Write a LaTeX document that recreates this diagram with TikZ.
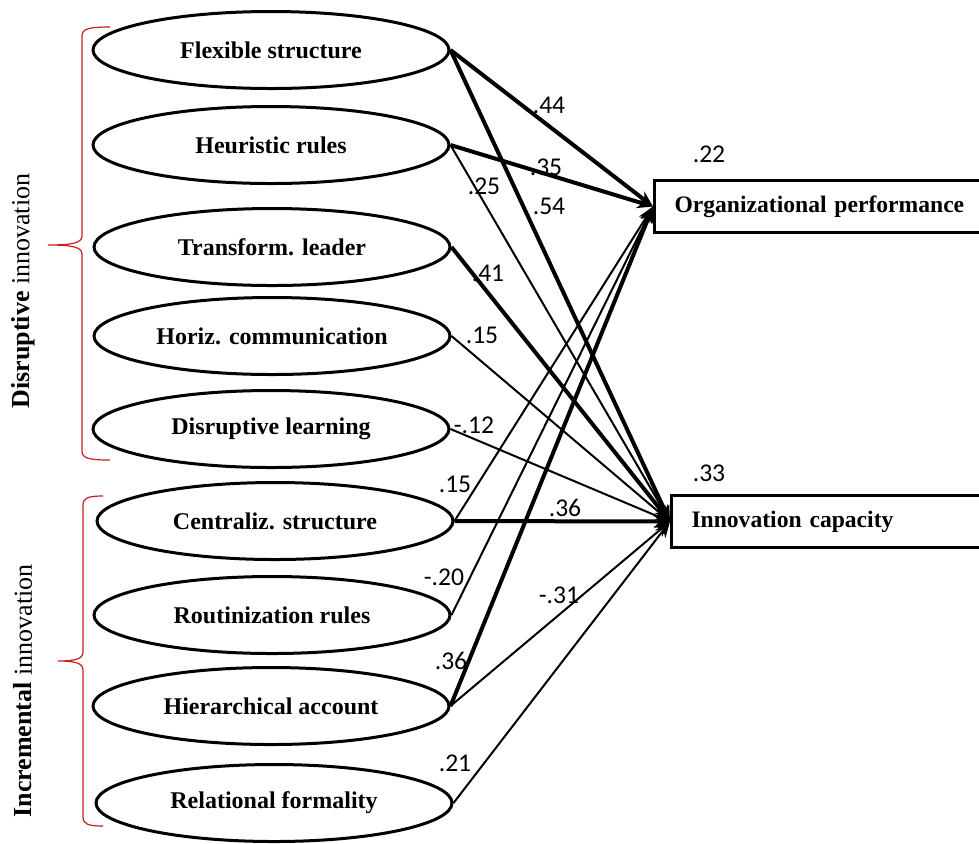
\documentclass[tikz,border=0pt]{standalone}
\usepackage{fontspec}
\setmainfont{Liberation Serif}
\newfontfamily\numfont{Carlito}
\usetikzlibrary{arrows.meta,shapes.geometric}
\definecolor{bracered}{RGB}{200,30,30}

\begin{document}
\begin{tikzpicture}[x=0.5pt, y=-0.5pt, line width=1.5pt,
    construct/.style={draw, ellipse, minimum width=178pt, minimum height=38.5pt, inner sep=0pt,
      font=\fontsize{12}{13}\selectfont\bfseries},
    outcome/.style={draw, rectangle, anchor=west, minimum height=26pt, inner xsep=10pt,
      text width=170pt, align=left, font=\fontsize{11.8}{13}\selectfont\bfseries},
    coef/.style={font=\numfont\fontsize{12.8}{14}\selectfont, inner sep=0pt},
    thickpath/.style={line width=2pt, -{Stealth[length=8pt,width=6.5pt]}},
    thinpath/.style={line width=1pt, -{Stealth[length=8pt,width=6.5pt]}},
    grp/.style={bracered, line width=0.6pt},
    grouplabel/.style={rotate=90, font=\fontsize{13}{15}\selectfont}]
  \useasboundingbox (0,0) rectangle (979,843);
  % antecedents, disruptive side
  \node[construct] (fs) at (271,50) {Flexible structure};
  \node[construct] (hr) at (271,145) {Heuristic rules};
  \node[construct] (tl) at (272,247) {Transform. leader};
  \node[construct] (hc) at (272,336) {Horiz. communication};
  \node[construct] (dl) at (271,429) {Disruptive learning};
  % antecedents, incremental side
  \node[construct] (cs) at (275,521) {Centraliz. structure};
  \node[construct] (rr) at (272,615) {Routinization rules};
  \node[construct] (ha) at (271,706) {Hierarchical account};
  \node[construct] (rf) at (274,803) {Relational formality};
  % outcomes
  \node[outcome] (op) at (653,206.5) {Organizational performance};
  \node[outcome] (ic) at (670,521.5) {Innovation capacity};
  \node[coef] (r2op) at (709,154) {.22};
  \node[coef] (r2ic) at (709,473) {.33};
  % group braces
  \draw[grp] (110,27) .. controls (88,27) and (82,29) .. (82,36) -- (82,236)
    .. controls (82,243) and (72,245) .. (48,245)
    .. controls (72,245) and (82,247) .. (82,254) -- (82,451)
    .. controls (82,458) and (88,460) .. (110,460);
  \draw[grp] (103,496) .. controls (88,496) and (83,498) .. (83,505) -- (83,652)
    .. controls (83,659) and (75,661) .. (58,661)
    .. controls (75,661) and (83,663) .. (83,670) -- (83,817)
    .. controls (83,824) and (88,826) .. (103,826);
  \node[grouplabel] (dis) at (23,291) {\textbf{Disruptive} innovation};
  \node[grouplabel] (inc) at (23,691) {\textbf{Incremental} innovation};
  % paths
  \draw[thickpath] (fs.east) -- (op.west);
  \draw[thickpath] (fs.east) -- (ic.west);
  \draw[thickpath] (hr.east) -- (op.west);
  \draw[thinpath] (hr.east) -- (ic.west);
  \draw[thickpath] (tl.east) -- (ic.west);
  \draw[thinpath] (hc.east) -- (ic.west);
  \draw[thinpath] (dl.east) -- (ic.west);
  \draw[thinpath] (cs.east) -- (op.west);
  \draw[thickpath] (cs.east) -- (ic.west);
  \draw[thinpath] (rr.east) -- (op.west);
  \draw[thickpath] (ha.east) -- (op.west);
  \draw[thinpath] (ha.east) -- (ic.west);
  \draw[thinpath] (rf.east) -- (ic.west);
  % coefficients
  \node[coef] (c1) at (549,105) {.44};
  \node[coef] (c2) at (546,167) {.35};
  \node[coef] (c3) at (484,186) {.25};
  \node[coef] (c4) at (549,206) {.54};
  \node[coef] (c5) at (488,273) {.41};
  \node[coef] (c6) at (482,335) {.15};
  \node[coef] (c7) at (474,425) {-.12};
  \node[coef] (c8) at (455,484) {.15};
  \node[coef] (c9) at (565,508) {.36};
  \node[coef] (c10) at (444,577) {-.20};
  \node[coef] (c11) at (559,595) {-.31};
  \node[coef] (c12) at (451,661) {.36};
  \node[coef] (c13) at (455,763) {.21};
\end{tikzpicture}
\end{document}
